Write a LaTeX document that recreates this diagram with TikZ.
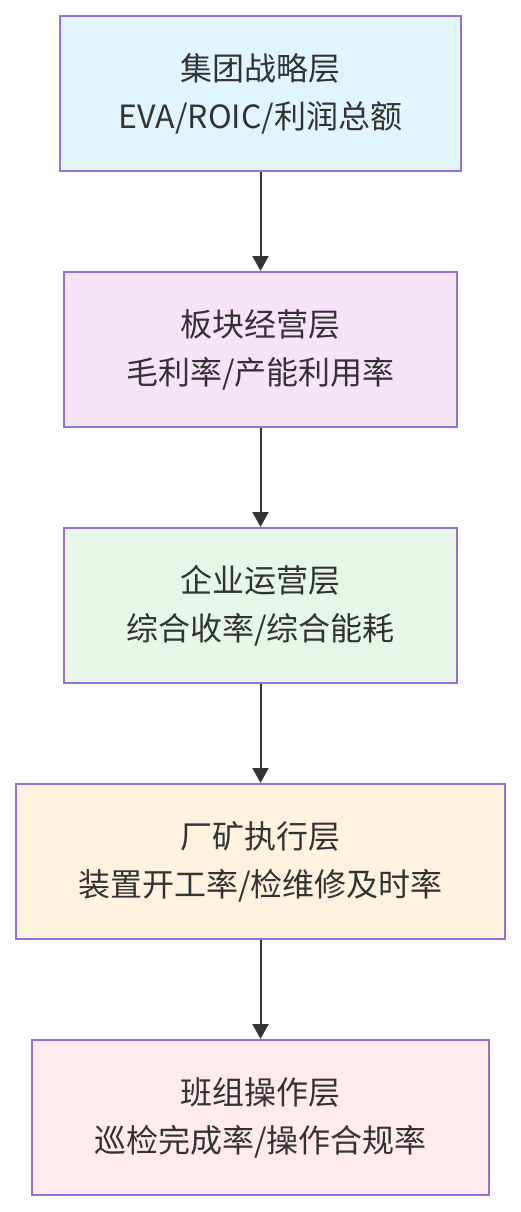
\documentclass[tikz,border=0pt]{standalone}
\usepackage{fontspec}
\newfontfamily\cjk{Noto Sans CJK SC}
\usetikzlibrary{arrows.meta}
\definecolor{bordc}{HTML}{9370DB}
\definecolor{txtc}{HTML}{333333}
\definecolor{fa}{HTML}{E1F5FE}
\definecolor{fb}{HTML}{F3E5F5}
\definecolor{fc}{HTML}{E8F5E9}
\definecolor{fd}{HTML}{FFF3E0}
\definecolor{fe}{HTML}{FFEBEE}
\tikzset{
  layerbox/.style={draw=bordc, line width=2pt, minimum height=155pt, inner sep=0pt,
    align=center, text=txtc, font=\cjk\fontsize{32}{48}\selectfont},
  conn/.style={draw=txtc, line width=2pt, -{Triangle[length=15pt,width=16pt]}}
}
\begin{document}
\begin{tikzpicture}[x=1pt,y=-1pt]
\useasboundingbox (0,0) rectangle (520,1212);
\node[layerbox, fill=fa, minimum width=401pt] (n1) at (260.5,93.5) {集团战略层\\EVA/ROIC/利润总额};
\node[layerbox, fill=fb, minimum width=393pt] (n2) at (260.5,349.5) {板块经营层\\毛利率/产能利用率};
\node[layerbox, fill=fc, minimum width=393pt] (n3) at (260.5,605.5) {企业运营层\\综合收率/综合能耗};
\node[layerbox, fill=fd, minimum width=489pt] (n4) at (260.5,861.5) {厂矿执行层\\装置开工率/检维修及时率};
\node[layerbox, fill=fe, minimum width=457pt] (n5) at (260.5,1117.5) {班组操作层\\巡检完成率/操作合规率};
\draw[conn] (n1.south) -- (n2.north);
\draw[conn] (n2.south) -- (n3.north);
\draw[conn] (n3.south) -- (n4.north);
\draw[conn] (n4.south) -- (n5.north);
\end{tikzpicture}
\end{document}
